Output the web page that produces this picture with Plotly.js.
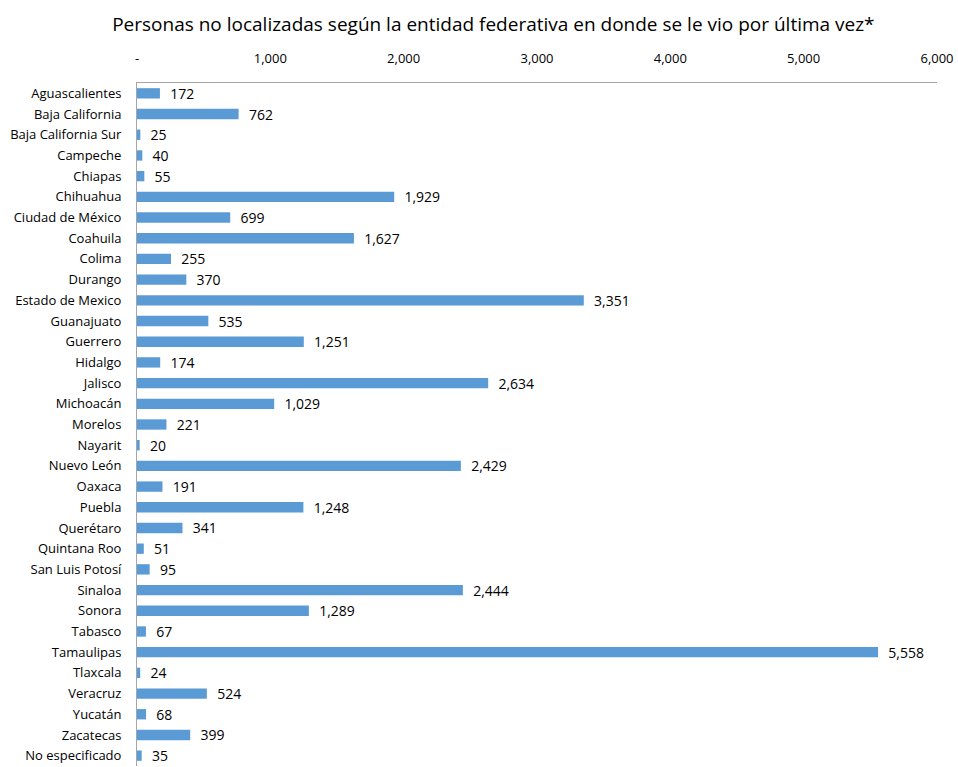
<!DOCTYPE html>
<html>
<head>
<meta charset="utf-8">
<script src="https://cdn.plot.ly/plotly-3.0.1.min.js"></script>
<style>
html,body{margin:0;padding:0;overflow:hidden;background:#fff;}
#chart{width:958px;height:767px;}
</style>
</head>
<body>
<div id="chart"></div>
<script>
const categories = ["Aguascalientes","Baja California","Baja California Sur","Campeche","Chiapas","Chihuahua","Ciudad de México","Coahuila","Colima","Durango","Estado de Mexico","Guanajuato","Guerrero","Hidalgo","Jalisco","Michoacán","Morelos","Nayarit","Nuevo León","Oaxaca","Puebla","Querétaro","Quintana Roo","San Luis Potosí","Sinaloa","Sonora","Tabasco","Tamaulipas","Tlaxcala","Veracruz","Yucatán","Zacatecas","No especificado"];
const values = [172,762,25,40,55,1929,699,1627,255,370,3351,535,1251,174,2634,1029,221,20,2429,191,1248,341,51,95,2444,1289,67,5558,24,524,68,399,35];
const tickValues = [0,1000,2000,3000,4000,5000,6000];
const tickLabels = ["-","1,000","2,000","3,000","4,000","5,000","6,000"];
const titleText = "Personas no localizadas según la entidad federativa en donde se le vio por última vez*";

const font = "'Open Sans', 'Noto Sans', sans-serif";

const trace = {
  type: "bar",
  orientation: "h",
  y: categories,
  x: values,
  marker: {color: "#5b9bd5"},
  texttemplate: "  %{x:,.0f}",
  textposition: "outside",
  constraintext: "none",
  textfont: {family: font, size: 14, color: "#000"},
  cliponaxis: false,
  hoverinfo: "none"
};

const layout = {
  width: 958,
  height: 767,
  margin: {l: 137, r: 21, t: 83, b: 1, pad: 0},
  paper_bgcolor: "#fff",
  plot_bgcolor: "#fff",
  bargap: 0.5,
  showlegend: false,
  title: {text: titleText, font: {family: font, size: 19, color: "#000"}, x: 0.515, xanchor: "center", y: 0.968, yanchor: "middle"},
  xaxis: {
    side: "top",
    range: [0, 6000],
    tickvals: tickValues,
    ticktext: tickLabels,
    showgrid: false,
    zeroline: false,
    showline: true,
    linecolor: "#a6a6a6",
    linewidth: 1,
    ticks: "",
    ticklabelstandoff: 14,
    tickfont: {family: font, size: 13, color: "#000"}
  },
  yaxis: {
    autorange: "reversed",
    type: "category",
    showgrid: false,
    zeroline: false,
    showline: true,
    linecolor: "#a6a6a6",
    linewidth: 1,
    ticks: "",
    ticklabelstandoff: 12,
    tickfont: {family: font, size: 13, color: "#000"}
  }
};

Plotly.newPlot("chart", [trace], layout, {displayModeBar: false, staticPlot: true});
</script>
</body>
</html>
